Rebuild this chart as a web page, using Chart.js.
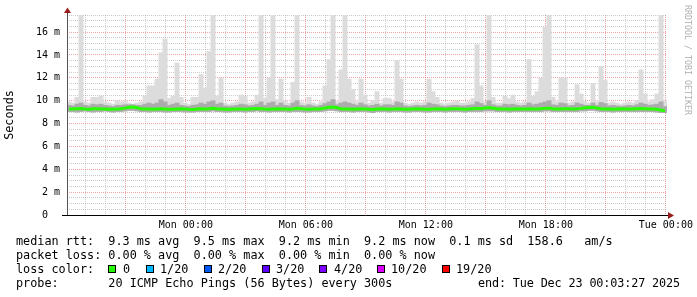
<!DOCTYPE html>
<html>
<head>
<meta charset="utf-8">
<script src="https://cdn.jsdelivr.net/npm/chart.js@4/dist/chart.umd.min.js"></script>
<style>
  html, body { margin: 0; padding: 0; background: #fff; }
  #wrap { position: relative; width: 697px; height: 297px; overflow: hidden; }
  #chart { position: absolute; left: 0; top: 0; }
  .txt { position: absolute; font-family: 'DejaVu Sans Mono', monospace; font-size: 11.8px; line-height: 14px; color: #000; white-space: pre; }
  .box { position: absolute; width: 6px; height: 6px; border: 1px solid #000; }
  #mark { position: absolute; left: 683px; top: 5px; font-family: 'DejaVu Sans Mono', monospace; font-size: 8.3px; line-height: 10px; color: #b0b0b0; white-space: pre; transform-origin: 0 0; transform: translate(10px, 0) rotate(90deg); }
</style>
</head>
<body>
<div id="wrap">
  <canvas id="chart" width="697" height="297"></canvas>
  <div id="mark">RRDTOOL / TOBI OETIKER</div>
  <div class="txt" style="left:16px;top:234px">median rtt:  9.3 ms avg  9.5 ms max  9.2 ms min  9.2 ms now  0.1 ms sd  158.6   am/s</div>
  <div class="txt" style="left:16px;top:248px">packet loss: 0.00 % avg  0.00 % max  0.00 % min  0.00 % now</div>
  <div id="lossRow"></div>
  <div class="txt" style="left:16px;top:276px">probe:       20 ICMP Echo Pings (56 Bytes) every 300s</div>
  <div class="txt" style="left:478px;top:276px;letter-spacing:-0.14px">end: Tue Dec 23 00:03:27 2025</div>
</div>
<script>
// --- datos: 150 muestras de 12 min, desde dom 18:03:27 hasta mar 00:03:27 ---
const startClock = 18 + 3 / 60 + 27 / 3600; // hora de inicio (dom)
const stepHours = 0.2;

// mediana (ms)
const medianRtt = [
  9.28, 9.27, 9.30, 9.32, 9.28, 9.26, 9.30, 9.29, 9.27, 9.28,
  9.26, 9.25, 9.27, 9.30, 9.35, 9.42, 9.45, 9.38, 9.30, 9.28,
  9.27, 9.26, 9.28, 9.30, 9.27, 9.25, 9.26, 9.28, 9.30, 9.27,
  9.25, 9.24, 9.27, 9.29, 9.28, 9.30, 9.33, 9.30, 9.28, 9.26,
  9.25, 9.26, 9.28, 9.27, 9.25, 9.27, 9.30, 9.32, 9.30, 9.27,
  9.26, 9.28, 9.30, 9.28, 9.27, 9.25, 9.28, 9.33, 9.30, 9.27,
  9.26, 9.27, 9.28, 9.30, 9.36, 9.42, 9.44, 9.38, 9.30, 9.28,
  9.27, 9.26, 9.28, 9.30, 9.28, 9.25, 9.24, 9.27, 9.30, 9.28,
  9.26, 9.27, 9.30, 9.28, 9.26, 9.25, 9.27, 9.29, 9.28, 9.26,
  9.25, 9.27, 9.30, 9.28, 9.26, 9.27, 9.29, 9.30, 9.28, 9.26,
  9.27, 9.30, 9.33, 9.30, 9.36, 9.40, 9.35, 9.30, 9.28, 9.27,
  9.26, 9.28, 9.30, 9.28, 9.27, 9.30, 9.28, 9.27, 9.30, 9.33,
  9.36, 9.30, 9.28, 9.27, 9.29, 9.30, 9.28, 9.30, 9.33, 9.38,
  9.40, 9.42, 9.36, 9.30, 9.28, 9.27, 9.26, 9.28, 9.30, 9.28,
  9.27, 9.28, 9.30, 9.32, 9.30, 9.28, 9.27, 9.25, 9.18, 9.12
];

// humo: ping mas rapido
const smokeMin = [
  9.05, 9.05, 9.00, 9.05, 9.10, 9.05, 9.00, 9.05, 9.05, 9.10,
  9.05, 9.00, 9.05, 9.05, 9.10, 9.15, 9.15, 9.10, 9.05, 9.05,
  9.00, 9.05, 9.05, 9.05, 9.00, 9.00, 9.05, 9.05, 9.05, 9.00,
  9.00, 9.00, 9.05, 9.05, 9.05, 9.05, 9.10, 9.05, 9.05, 9.00,
  9.00, 9.05, 9.05, 9.05, 9.00, 9.05, 9.05, 9.10, 9.05, 9.05,
  9.00, 9.05, 9.05, 9.05, 9.05, 9.00, 9.05, 9.05, 9.05, 9.00,
  9.00, 9.05, 9.05, 9.05, 9.10, 9.15, 9.15, 9.10, 9.05, 9.05,
  9.05, 9.00, 9.05, 9.05, 9.05, 9.00, 8.95, 9.05, 9.05, 9.05,
  9.00, 9.05, 9.05, 9.05, 9.00, 9.00, 9.05, 9.05, 9.05, 9.00,
  9.00, 9.05, 9.05, 9.05, 9.00, 9.05, 9.05, 9.05, 9.05, 9.00,
  9.05, 9.05, 9.05, 9.05, 9.10, 9.10, 9.10, 9.05, 9.05, 9.05,
  9.00, 9.05, 9.05, 9.05, 9.05, 9.05, 9.05, 9.05, 9.05, 9.10,
  9.10, 9.05, 9.05, 9.05, 9.05, 9.05, 9.05, 9.05, 9.10, 9.10,
  9.15, 9.15, 9.10, 9.05, 9.05, 9.05, 9.00, 9.05, 9.05, 9.05,
  9.05, 9.05, 9.05, 9.05, 9.05, 9.05, 9.05, 9.00, 8.95, 8.95
];

// humo: banda central (gris medio)
const smokeMid = [
  9.60, 9.55, 9.70, 9.80, 9.60, 9.55, 9.70, 9.65, 9.70, 9.60,
  9.55, 9.50, 9.60, 9.60, 9.65, 9.65, 9.65, 9.60, 9.60, 9.70,
  9.80, 9.70, 9.80, 10.1, 9.90, 9.60, 9.70, 9.80, 9.60, 9.55,
  9.50, 9.60, 9.65, 9.80, 9.70, 9.90, 10.0, 9.70, 9.80, 9.55,
  9.50, 9.55, 9.60, 9.70, 9.65, 9.55, 9.60, 9.70, 9.90, 9.60,
  9.80, 9.90, 9.60, 9.80, 9.60, 9.55, 9.80, 10.0, 9.60, 9.55,
  9.65, 9.55, 9.50, 9.60, 9.75, 9.90, 10.1, 9.65, 9.80, 9.90,
  9.80, 9.70, 9.60, 9.80, 9.65, 9.55, 9.60, 9.70, 9.55, 9.65,
  9.65, 9.60, 9.90, 9.80, 9.55, 9.50, 9.55, 9.60, 9.55, 9.60,
  9.80, 9.70, 9.65, 9.55, 9.50, 9.55, 9.60, 9.60, 9.55, 9.55,
  9.60, 9.65, 9.90, 9.75, 9.60, 10.0, 9.65, 9.55, 9.55, 9.70,
  9.65, 9.70, 9.60, 9.55, 9.60, 9.80, 9.65, 9.70, 9.80, 9.90,
  10.0, 9.65, 9.60, 9.80, 9.75, 9.55, 9.60, 9.80, 9.70, 9.60,
  9.60, 9.80, 9.60, 9.85, 9.75, 9.55, 9.60, 9.55, 9.50, 9.55,
  9.60, 9.55, 9.65, 9.80, 9.70, 9.60, 9.65, 9.70, 9.90, 9.50
];

// humo: ping mas lento (gris claro, picos)
const smokeMax = [
  9.90, 9.80, 10.3, 17.5, 9.90, 9.80, 10.3, 10.3, 10.4, 9.90,
  9.80, 9.70, 10.0, 9.90, 10.0, 9.80, 9.70, 9.80, 9.90, 10.4,
  11.3, 11.3, 11.9, 14.2, 15.4, 10.2, 10.4, 13.3, 10.3, 9.80,
  9.70, 10.3, 10.3, 12.3, 11.1, 14.3, 17.5, 10.4, 12.0, 9.80,
  9.70, 9.80, 9.90, 10.5, 10.4, 9.80, 9.90, 10.5, 17.5, 10.2,
  12.0, 17.5, 10.1, 11.9, 10.0, 9.80, 11.6, 17.5, 9.90, 9.80,
  10.3, 9.80, 9.70, 9.90, 11.3, 13.6, 17.5, 9.90, 12.7, 17.5,
  11.9, 11.0, 9.90, 11.9, 10.5, 9.80, 10.0, 10.8, 9.80, 10.2,
  10.2, 9.90, 13.5, 11.9, 9.80, 9.70, 9.80, 9.90, 9.80, 9.90,
  11.9, 10.8, 10.3, 9.80, 9.70, 9.80, 9.90, 10.0, 9.80, 9.80,
  9.90, 10.2, 14.9, 11.3, 9.90, 17.5, 10.3, 9.80, 9.80, 10.4,
  10.2, 10.5, 9.90, 9.80, 9.90, 13.6, 10.4, 10.8, 12.0, 16.4,
  17.5, 10.3, 9.90, 12.0, 12.0, 9.80, 9.90, 11.4, 10.6, 9.90,
  9.80, 11.5, 9.90, 13.0, 11.8, 9.80, 9.90, 9.80, 9.70, 9.80,
  9.90, 9.80, 10.0, 12.7, 10.6, 9.90, 10.1, 10.6, 17.5, 10.0
];

// ejes
const yMaxMs = 17.5;
const yLabelEvery = 2;
const gridHours = [];                 // horas de reloj con linea de rejilla (19 = dom 19:00, 48 = mar 00:00)
for (let h = 19; h <= 48; h++) gridHours.push(h);
const labelHours = [24, 30, 36, 42, 48];
const timeLabels = ['Mon 00:00', 'Mon 06:00', 'Mon 12:00', 'Mon 18:00', 'Tue 00:00'];

// colores de perdida (smokeping)
const lossSteps = ['0', '1/20', '2/20', '3/20', '4/20', '10/20', '19/20'];
const lossColors = ['#26ff00', '#00b8ff', '#0059ff', '#5e00ff', '#7e00ff', '#dd00ff', '#ff0000'];

// --- fila de colores de perdida ---
const lossRow = document.getElementById('lossRow');
const boxX = [108, 146, 204, 262, 319, 377, 442];
const stepX = [123, 160, 218, 276, 334, 391, 456];
lossRow.innerHTML = '<div class="txt" style="left:16px;top:262px">loss color:</div>' +
  lossSteps.map((s, i) =>
    `<div class="box" style="left:${boxX[i]}px;top:265px;background:${lossColors[i]}"></div>` +
    `<div class="txt" style="left:${stepX[i]}px;top:262px">${s}</div>`).join('');

// --- datos para Chart.js ---
const hourAt = (i) => stepHours * i + stepHours / 2;
const toBar = (lo, hi) => lo.map((v, i) => ({ x: hourAt(i), y: [v, hi[i]] }));

const MONO = 'DejaVu Sans Mono';
const minorGrid = 'rgba(140,140,140,0.45)';
const majorGrid = 'rgba(235,100,100,0.6)';

// flechas y lineas de ejes al estilo rrdtool
const axisArrows = {
  id: 'axisArrows',
  afterDraw(chart) {
    const { ctx, chartArea: a } = chart;
    const l = Math.round(a.left) + 0.5, b = Math.round(a.bottom) + 0.5;
    ctx.save();
    ctx.lineWidth = 1;
    ctx.strokeStyle = '#555';
    ctx.beginPath(); ctx.moveTo(l, a.top - 3); ctx.lineTo(l, b); ctx.stroke();
    ctx.strokeStyle = '#000';
    ctx.beginPath(); ctx.moveTo(a.left - 5, b); ctx.lineTo(a.right + 2, b); ctx.stroke();
    ctx.fillStyle = '#9b1c1c';
    ctx.beginPath(); ctx.moveTo(l - 3.5, a.top - 2); ctx.lineTo(l + 3.5, a.top - 2); ctx.lineTo(l, a.top - 7.5); ctx.closePath(); ctx.fill();
    ctx.beginPath(); ctx.moveTo(a.right + 1, b - 3.5); ctx.lineTo(a.right + 1, b + 3.5); ctx.lineTo(a.right + 7, b); ctx.closePath(); ctx.fill();
    ctx.restore();
  }
};

const barBase = { type: 'bar', grouped: false, borderWidth: 0, borderSkipped: false, barThickness: 4.3, clip: 0 };

new Chart(document.getElementById('chart'), {
  data: {
    datasets: [
      {
        type: 'line',
        label: 'median rtt',
        data: medianRtt.map((v, i) => ({ x: hourAt(i), y: v })),
        borderColor: lossColors[0],
        borderWidth: 3,
        pointRadius: 0,
        tension: 0,
        order: 0
      },
      Object.assign({ label: 'smoke mid', data: toBar(smokeMin, smokeMid), backgroundColor: '#acacac', order: 1 }, barBase),
      Object.assign({ label: 'smoke max', data: toBar(smokeMin, smokeMax), backgroundColor: '#dcdcdc', order: 2 }, barBase)
    ]
  },
  options: {
    responsive: false,
    animation: false,
    events: [],
    layout: { padding: { left: 0, right: 30, top: 15, bottom: 0 } },
    plugins: { legend: { display: false }, tooltip: { enabled: false } },
    scales: {
      x: {
        type: 'linear',
        min: 0,
        max: 30,
        offset: false,
        afterFit: (s) => { s.height = 82; s.paddingLeft = 0; s.paddingRight = 0; },
        afterBuildTicks: (s) => { s.ticks = gridHours.map(h => ({ value: h - startClock })); },
        grid: {
          offset: false,
          drawTicks: false,
          lineWidth: 1,
          color: (c) => {
            if (!c.tick) return minorGrid;
            const h = Math.round(c.tick.value + startClock);
            return h % 3 === 0 ? majorGrid : minorGrid;
          }
        },
        border: { display: false, dash: [1, 1] },
        ticks: {
          autoSkip: false,
          maxRotation: 0,
          padding: 4,
          color: '#000',
          font: { family: MONO, size: 10 },
          callback: (v) => {
            const k = labelHours.indexOf(Math.round(v + startClock));
            return k >= 0 ? timeLabels[k] : '';
          }
        }
      },
      y: {
        type: 'linear',
        min: 0,
        max: yMaxMs,
        afterFit: (s) => { s.width = 67; s.paddingTop = 0; s.paddingBottom = 0; },
        afterBuildTicks: (s) => {
          const t = [];
          for (let v = 0; v <= yMaxMs; v += 0.5) t.push({ value: v });
          s.ticks = t;
        },
        grid: {
          drawTicks: false,
          color: (c) => (c.tick && c.tick.value % yLabelEvery === 0 ? majorGrid : minorGrid)
        },
        border: { display: false, dash: [1, 1] },
        title: {
          display: true,
          text: 'Seconds',
          color: '#000',
          padding: { top: 3, bottom: 0 },
          font: { family: MONO, size: 11.8 }
        },
        ticks: {
          autoSkip: false,
          padding: 7,
          color: '#000',
          font: { family: MONO, size: 10 },
          callback: (v) => {
            if (v % yLabelEvery !== 0) return '';
            return v === 0 ? '0  ' : v + ' m';
          }
        }
      }
    }
  },
  plugins: [axisArrows]
});
</script>
</body>
</html>
